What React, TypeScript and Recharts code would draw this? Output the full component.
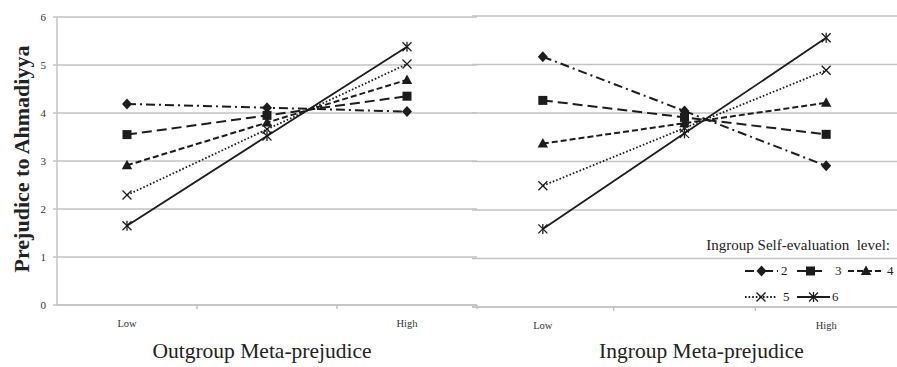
import React from 'react';
import { LineChart, Line, XAxis, YAxis, CartesianGrid } from 'recharts';

const categories = ['Low', 'Mid', 'High'];
const xTickLabels = ['Low', '', 'High'];
const yTicks = [0, 1, 2, 3, 4, 5, 6];
const levels = ['2', '3', '4', '5', '6'];

// Outgroup Meta-prejudice panel
const outgroupLevel2 = [4.19, 4.11, 4.03];
const outgroupLevel3 = [3.55, 3.95, 4.35];
const outgroupLevel4 = [2.91, 3.8, 4.69];
const outgroupLevel5 = [2.29, 3.66, 5.02];
const outgroupLevel6 = [1.65, 3.52, 5.38];

// Ingroup Meta-prejudice panel
const ingroupLevel2 = [5.16, 4.04, 2.91];
const ingroupLevel3 = [4.26, 3.91, 3.56];
const ingroupLevel4 = [3.37, 3.79, 4.21];
const ingroupLevel5 = [2.5, 3.69, 4.88];
const ingroupLevel6 = [1.61, 3.58, 5.55];

const outgroupSeries = [outgroupLevel2, outgroupLevel3, outgroupLevel4, outgroupLevel5, outgroupLevel6];
const ingroupSeries = [ingroupLevel2, ingroupLevel3, ingroupLevel4, ingroupLevel5, ingroupLevel6];

const buildData = (series: number[][]) =>
  categories.map((c, i) => {
    const row: Record<string, any> = { cat: c };
    levels.forEach((lv, j) => {
      row['l' + lv] = series[j][i];
    });
    return row;
  });

const leftData = buildData(outgroupSeries);
const rightData = buildData(ingroupSeries);

const FONT = '"Liberation Serif", "Times New Roman", serif';
const INK = '#1c1c1c';
const GRID = '#c3c3c3';

type Shape = 'diamond' | 'square' | 'triangle' | 'x' | 'star';
const styles: { dash?: string; width: number; shape: Shape }[] = [
  { dash: '9 4 2 4', width: 2, shape: 'diamond' },
  { dash: '10 5', width: 2, shape: 'square' },
  { dash: '6 3', width: 2, shape: 'triangle' },
  { dash: '1.6 2', width: 1.8, shape: 'x' },
  { dash: undefined, width: 1.8, shape: 'star' },
];

const MarkerShape = ({ cx, cy, shape }: { cx: number; cy: number; shape: Shape }) => {
  if (cx == null || cy == null) return null;
  switch (shape) {
    case 'diamond':
      return <polygon points={`${cx},${cy - 5.5} ${cx + 5},${cy} ${cx},${cy + 5.5} ${cx - 5},${cy}`} fill={INK} />;
    case 'square':
      return <rect x={cx - 4.5} y={cy - 4.5} width={9} height={9} fill={INK} />;
    case 'triangle':
      return <polygon points={`${cx},${cy - 5.5} ${cx + 5.2},${cy + 4} ${cx - 5.2},${cy + 4}`} fill={INK} />;
    case 'x':
      return (
        <g stroke={INK} strokeWidth={1.3} fill="none">
          <line x1={cx - 4.5} y1={cy - 4.5} x2={cx + 4.5} y2={cy + 4.5} />
          <line x1={cx - 4.5} y1={cy + 4.5} x2={cx + 4.5} y2={cy - 4.5} />
        </g>
      );
    case 'star':
    default:
      return (
        <g stroke={INK} strokeWidth={1.3} fill="none">
          <line x1={cx - 4.5} y1={cy - 4.5} x2={cx + 4.5} y2={cy + 4.5} />
          <line x1={cx - 4.5} y1={cy + 4.5} x2={cx + 4.5} y2={cy - 4.5} />
          <line x1={cx} y1={cy - 5} x2={cx} y2={cy + 5} />
        </g>
      );
  }
};

const makeDot = (shape: Shape) => (p: any) => (
  <MarkerShape key={`dot-${shape}-${p.index}`} cx={p.cx} cy={p.cy} shape={shape} />
);

const XTick = (props: any) => {
  const { x, y, index, band, tickCount } = props;
  const label = xTickLabels[index] ?? '';
  const showLine = index < tickCount;
  return (
    <g>
      {showLine && (
        <line x1={x + band / 2} y1={y - 5} x2={x + band / 2} y2={y - 1} stroke={GRID} strokeWidth={1.5} />
      )}
      <text x={x} y={y} dy={17} textAnchor="middle" fontFamily={FONT} fontSize={10.5} fill="#333">
        {label}
      </text>
    </g>
  );
};

const renderLines = () =>
  levels.map((lv, j) => (
    <Line
      key={lv}
      dataKey={'l' + lv}
      stroke={INK}
      strokeWidth={styles[j].width}
      strokeDasharray={styles[j].dash}
      dot={makeDot(styles[j].shape)}
      activeDot={false}
      isAnimationActive={false}
    />
  ));

const AxisTitle = ({ viewBox, value, dx }: any) => {
  const { x, y, width, height } = viewBox;
  return (
    <text x={x + width / 2 + (dx || 0)} y={y + height - 9} textAnchor="middle" fontFamily={FONT} fontSize={21.5} fill="#222">
      {value}
    </text>
  );
};

const LegendSample = ({ j, w }: { j: number; w: number }) => (
  <svg width={w} height={12} style={{ position: 'absolute', left: 0, top: -6 }}>
    <line x1={0} y1={6} x2={w} y2={6} stroke={INK} strokeWidth={styles[j].width} strokeDasharray={styles[j].dash} />
    <MarkerShape cx={w / 2} cy={6} shape={styles[j].shape} />
  </svg>
);

// legend layout: [row, left, sample width, label offset]
const legendLayout: [number, number, number, number][] = [
  [0, 745, 33, 36],
  [0, 797, 27, 38],
  [0, 848, 36, 39],
  [1, 745, 32, 38],
  [1, 797, 33, 35],
];
const legendRowY = [271, 297];

export default function App() {
  return (
    <div style={{ position: 'fixed', left: 0, top: 0, width: 897, height: 367, background: '#fff', overflow: 'hidden' }}>
      <div style={{ position: 'absolute', left: 0, top: 0 }}>
        <LineChart width={480} height={367} data={leftData} margin={{ top: 17, right: 3, bottom: 0, left: 0 }}>
          <CartesianGrid vertical={false} stroke={GRID} strokeWidth={1.5} />
          <XAxis
            dataKey="cat"
            scale="band"
            height={62}
            interval={0}
            axisLine={{ stroke: GRID, strokeWidth: 1.5 }}
            tickLine={false}
            tickSize={5}
            tickMargin={0}
            tick={<XTick band={140} tickCount={3} />}
            label={<AxisTitle value="Outgroup Meta-prejudice" dx={-5} />}
          />
          <YAxis
            domain={[0, 6]}
            ticks={yTicks}
            width={57}
            axisLine={{ stroke: GRID, strokeWidth: 1.5 }}
            tickLine={{ stroke: GRID, strokeWidth: 1.5 }}
            tickSize={4}
            tickMargin={7}
            tick={{ fontFamily: FONT, fontSize: 11, fill: '#333' }}
            label={{
              value: 'Prejudice to Ahmadiyya',
              angle: -90,
              position: 'insideLeft',
              dx: 16,
              dy: -2,
              style: { fontFamily: FONT, fontSize: 22, fontWeight: 'bold', fill: '#222', textAnchor: 'middle' },
            }}
          />
          {renderLines()}
        </LineChart>
      </div>
      <div style={{ position: 'absolute', left: 472, top: 0 }}>
        <LineChart width={425} height={367} data={rightData} margin={{ top: 16, right: 0, bottom: 0, left: 0 }}>
          <CartesianGrid vertical={false} stroke={GRID} strokeWidth={1.5} />
          <XAxis
            dataKey="cat"
            scale="band"
            height={60}
            interval={0}
            axisLine={{ stroke: GRID, strokeWidth: 1.5 }}
            tickLine={false}
            tickSize={5}
            tickMargin={0}
            tick={<XTick band={425 / 3} tickCount={2} />}
            label={<AxisTitle value="Ingroup Meta-prejudice" dx={17} />}
          />
          <YAxis hide domain={[0, 6]} ticks={yTicks} width={0} />
          {renderLines()}
        </LineChart>
      </div>
      <div
        style={{
          position: 'absolute',
          right: 7,
          top: 236,
          fontFamily: FONT,
          fontSize: 15,
          lineHeight: '18px',
          color: '#222',
          whiteSpace: 'nowrap',
        }}
      >
        Ingroup Self-evaluation&nbsp; level:
      </div>
      {legendLayout.map(([row, left, w, labelOff], j) => (
        <div key={j} style={{ position: 'absolute', left, top: legendRowY[row], height: 0 }}>
          <LegendSample j={j} w={w} />
          <span
            style={{
              position: 'absolute',
              left: labelOff,
              top: -8,
              fontFamily: FONT,
              fontSize: 13,
              lineHeight: '16px',
              color: '#222',
            }}
          >
            {levels[j]}
          </span>
        </div>
      ))}
    </div>
  );
}
